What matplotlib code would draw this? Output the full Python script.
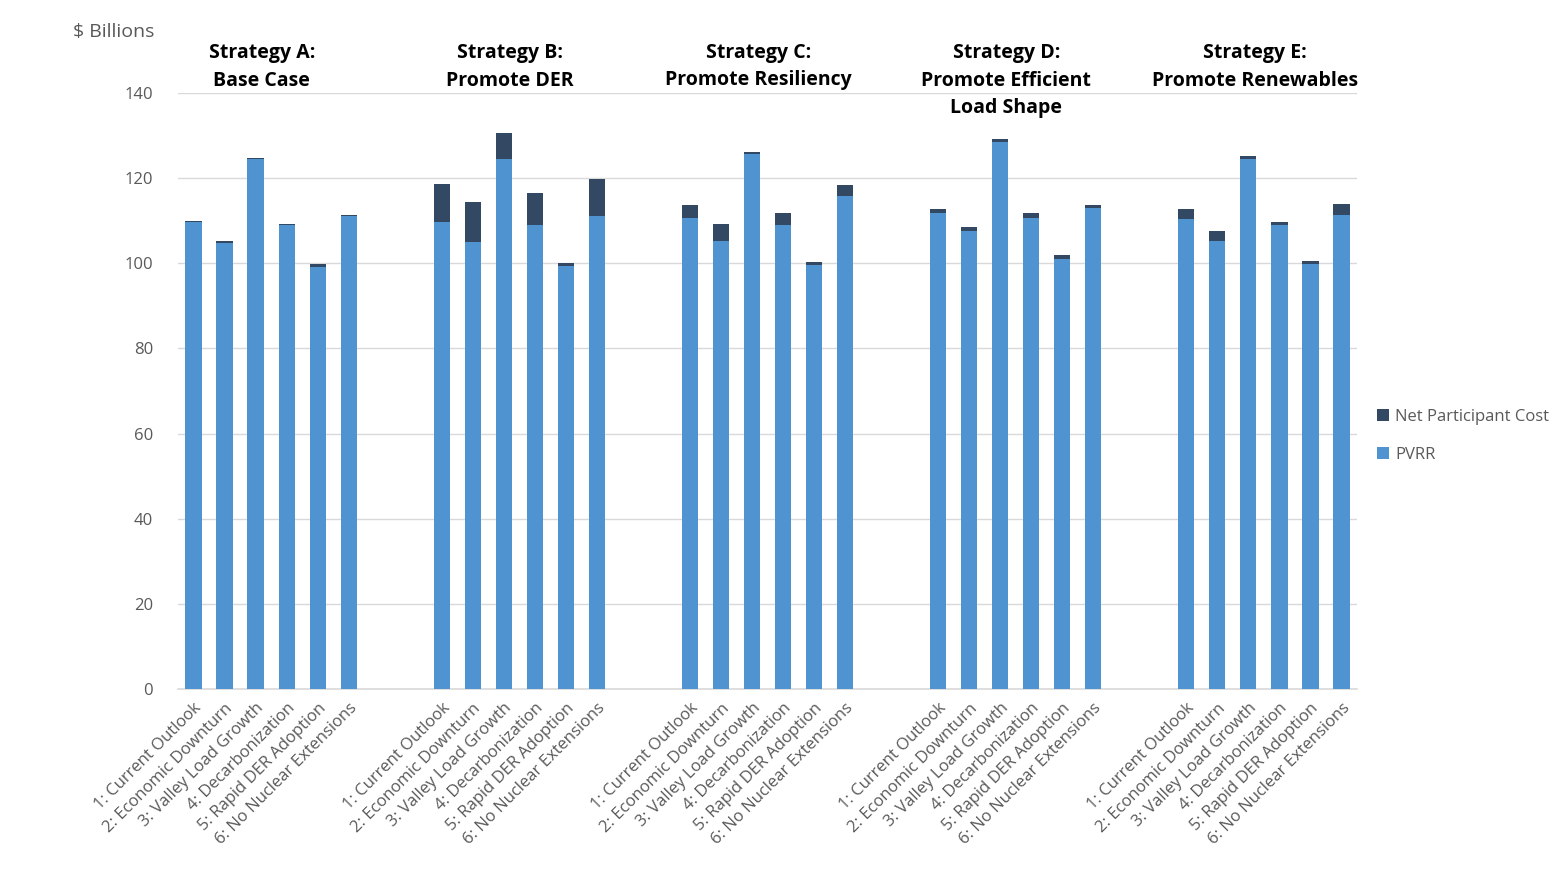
"""Stacked PVRR + net participant cost by strategy and scenario."""

import matplotlib
matplotlib.use("Agg")
import matplotlib.pyplot as plt
from matplotlib.transforms import blended_transform_factory

scenarios = [
    "1: Current Outlook",
    "2: Economic Downturn",
    "3: Valley Load Growth",
    "4: Decarbonization",
    "5: Rapid DER Adoption",
    "6: No Nuclear Extensions",
]
strategies = [
    "Strategy A:\nBase Case",
    "Strategy B:\nPromote DER",
    "Strategy C:\nPromote Resiliency",
    "Strategy D:\nPromote Efficient\nLoad Shape",
    "Strategy E:\nPromote Renewables",
]

# $ Billions, one row per strategy
pvrr = [
    [109.6, 104.7, 124.4, 108.9, 99.1, 111.0],
    [109.8, 105.1, 124.4, 108.9, 99.3, 111.0],
    [110.7, 105.3, 125.7, 109.1, 99.7, 115.7],
    [111.9, 107.5, 128.6, 110.7, 101.1, 113.1],
    [110.5, 105.3, 124.6, 109.1, 99.9, 111.4],
]
net_participant_cost = [
    [0.4, 0.6, 0.4, 0.4, 0.7, 0.4],
    [8.9, 9.4, 6.1, 7.5, 0.7, 8.9],
    [3.1, 4.0, 0.5, 2.6, 0.5, 2.8],
    [0.9, 1.1, 0.7, 1.0, 0.9, 0.7],
    [2.3, 2.4, 0.5, 0.5, 0.7, 2.6],
]

BLUE = "#4f94d0"
DARK = "#324863"
GREY = "#595959"
FONT = "Open Sans"

plt.rcParams["font.family"] = [FONT, "DejaVu Sans"]

fig = plt.figure(figsize=(15.65, 8.8), dpi=100)
ax = fig.add_axes([178 / 1565, 1 - 689 / 880, (1357 - 178) / 1565, (689 - 93) / 880])

slot = len(scenarios) + 2  # two empty categories between groups
xs, labels = [], []
for g, (pv, npc) in enumerate(zip(pvrr, net_participant_cost)):
    pos = [g * slot + i for i in range(len(scenarios))]
    ax.bar(pos, pv, width=0.52, color=BLUE, zorder=3,
           label="PVRR" if g == 0 else None)
    ax.bar(pos, npc, bottom=pv, width=0.52, color=DARK, zorder=3,
           label="Net Participant Cost" if g == 0 else None)
    xs += pos
    labels += scenarios

ax.set_xlim(-0.5, len(strategies) * slot - 2 - 0.5)
ax.set_ylim(0, 140)
ax.set_yticks(range(0, 141, 20))
ax.yaxis.grid(True, color="#d9d9d9", linewidth=1.0, zorder=0)
ax.set_axisbelow(True)

ax.set_xticks(xs)
ax.set_xticklabels(labels, rotation=45, ha="right", rotation_mode="anchor",
                   fontsize=12, color=GREY)
ax.tick_params(axis="x", length=0, pad=8)
ax.tick_params(axis="y", length=0, labelsize=12, labelcolor=GREY, pad=18)

for side in ["top", "right", "left"]:
    ax.spines[side].set_visible(False)
ax.spines["bottom"].set_color("#d9d9d9")
ax.spines["bottom"].set_linewidth(1.2)

# group headers (text boxes sit a little left of the group centre)
trans = blended_transform_factory(ax.transData, fig.transFigure)
for g, name in enumerate(strategies):
    cx = g * slot + (len(scenarios) - 1) / 2 - 0.3
    ax.text(cx, 1 - 43 / 880, name, transform=trans, ha="center", va="top",
            fontsize=14, fontweight="bold", color="black", linespacing=1.5)

fig.text(73 / 1565, 1 - 32 / 880, "$ Billions", ha="left", va="center",
         fontsize=14, color=GREY)

handles, names = ax.get_legend_handles_labels()
order = [1, 0]
fig.legend([handles[i] for i in order], [names[i] for i in order],
           loc="center left", bbox_to_anchor=(1362 / 1565, 1 - 436 / 880),
           frameon=False, fontsize=12, labelcolor=GREY, handlelength=0.7,
           handleheight=0.7, handletextpad=0.4, labelspacing=1.3)

fig.savefig("out.png", dpi=100, facecolor="white")
plt.close(fig)
